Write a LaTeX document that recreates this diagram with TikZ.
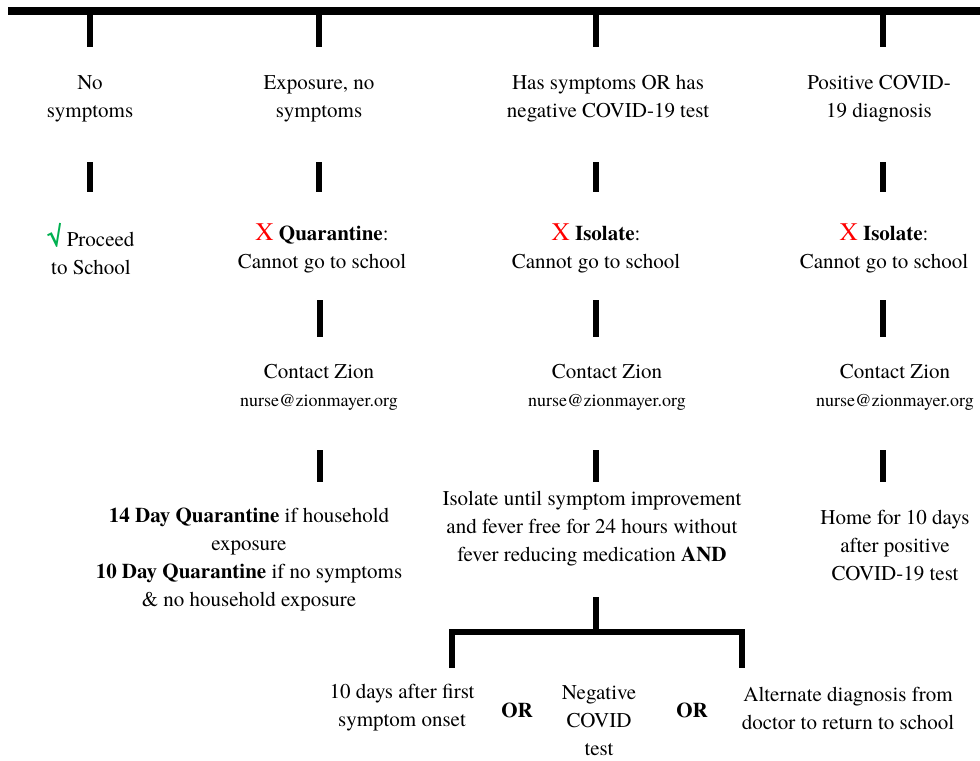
\documentclass[tikz,border=0pt]{standalone}
\usepackage{fontspec}
\IfFontExistsTF{texgyretermes-regular.otf}{%
  \setmainfont{texgyretermes}[Extension=.otf,UprightFont=*-regular,BoldFont=*-bold,ItalicFont=*-italic,BoldItalicFont=*-bolditalic]}{%
  \setmainfont{Liberation Serif}}
\newfontfamily\symfont{DejaVu Sans}
\definecolor{okgreen}{RGB}{0,176,80}
\definecolor{nored}{RGB}{255,0,0}
\newcommand{\yes}{{\color{okgreen}\fontsize{19}{21}\selectfont\bfseries √}}
\newcommand{\no}{{\color{nored}\fontsize{19}{21}\selectfont X}}
\newcommand{\mail}{{\fontsize{13.5}{18}\selectfont nurse@zionmayer.org}}
\begin{document}
\begin{tikzpicture}[x=0.75pt,y=-0.75pt,
  txt/.style={align=center,inner sep=0pt,font=\fontsize{15.75}{21}\selectfont},
  tick/.style={line width=4.5pt},
  topbar/.style={line width=6pt},
  orlbl/.style={inner sep=0pt,font=\fontsize{15.75}{21}\selectfont\bfseries}]
\useasboundingbox (0,0) rectangle (980,760);
% top bar
\coordinate (L) at (8,11);
\coordinate (R) at (980,11);
\draw[topbar] (L) -- (R);
% columns top ticks
\foreach \x/\n in {90/1,319/2,596/3,883/4}{
  \coordinate (ta\n) at (\x,13);
  \coordinate (tb\n) at (\x,47);
}
\foreach \n in {1,2,3,4}{\draw[tick] (ta\n) -- (tb\n);}
% row 1
\node[txt] (c1a) at (90,99) {No\\symptoms};
\node[txt] (c2a) at (319,99) {Exposure, no\\symptoms};
\node[txt] (c3a) at (608,99) {Has symptoms OR has\\negative COVID-19 test};
\node[txt] (c4a) at (879,99) {Positive COVID-\\19 diagnosis};
% row 2 ticks
\foreach \x/\n in {90/1,319/2,596/3,883/4}{
  \coordinate (ua\n) at (\x,162);
  \coordinate (ub\n) at (\x,192);
  \draw[tick] (ua\n) -- (ub\n);
}
\node[txt] (c1b) at (91,249) {\yes\ Proceed\\to School};
\node[txt] (c2b) at (322,248) {\no\ \textbf{Quarantine}:\\Cannot go to school};
\node[txt] (c3b) at (596,248) {\no\ \textbf{Isolate}:\\Cannot go to school};
\node[txt] (c4b) at (884,248) {\no\ \textbf{Isolate}:\\Cannot go to school};
% row 3 ticks
\foreach \x/\n in {320/2,596/3,883/4}{
  \coordinate (va\n) at (\x,300);
  \coordinate (vb\n) at (\x,337);
  \draw[tick] (va\n) -- (vb\n);
}
\node[txt] (c2c) at (319,387) {Contact Zion\\\mail};
\node[txt] (c3c) at (607,387) {Contact Zion\\\mail};
\node[txt] (c4c) at (895,387) {Contact Zion\\\mail};
% row 4 ticks
\foreach \x/\n in {320/2,596/3,883/4}{
  \coordinate (wa\n) at (\x,450);
  \coordinate (wb\n) at (\x,482);
  \draw[tick] (wa\n) -- (wb\n);
}
\node[txt] (c2d) at (249,560) {\textbf{14 Day Quarantine} if household\\exposure\\\textbf{10 Day Quarantine} if no symptoms\\\& no household exposure};
\node[txt] (c3d) at (592,529) {Isolate until symptom improvement\\and fever free for 24 hours without\\fever reducing medication \textbf{AND}};
\node[txt] (c4d) at (895,546) {Home for 10 days\\after positive\\COVID-19 test};
% bottom branch
\coordinate (ba) at (596,597);
\coordinate (bm) at (596,632);
\coordinate (bl) at (452,632);
\coordinate (br) at (742,632);
\coordinate (bld) at (452,668);
\coordinate (brd) at (742,668);
\draw[tick] (ba) -- (bm);
\draw[tick] (bld) -- (bl) -- (br) -- (brd);
\node[txt] (e1) at (402,708) {10 days after first\\symptom onset};
\node[orlbl] (or1) at (517,710) {OR};
\node[txt] (e2) at (599,721) {Negative\\COVID\\test};
\node[orlbl] (or2) at (692,710) {OR};
\node[txt] (e3) at (848,708) {Alternate diagnosis from\\doctor to return to school};
\end{tikzpicture}
\end{document}
